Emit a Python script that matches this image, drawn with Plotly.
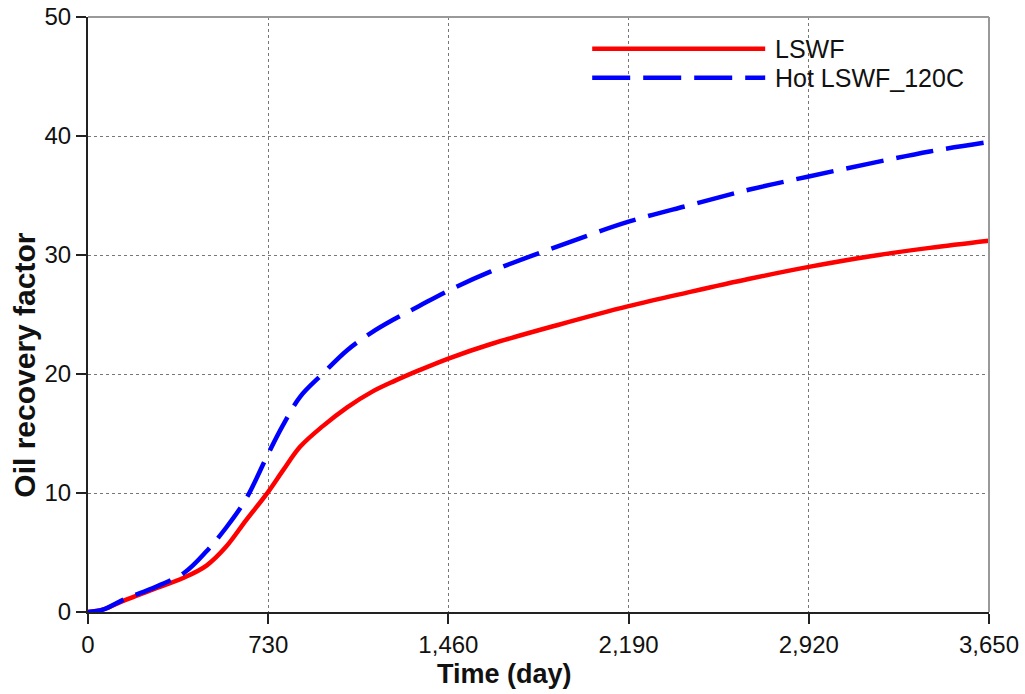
import plotly.graph_objects as go

# Time (day)
time_days = [0, 60, 150, 250, 390, 480, 560, 640, 730, 790, 860, 950, 1050, 1150,
             1240, 1340, 1460, 1630, 1900, 2190, 2440, 2680, 2920, 3170, 3410, 3650]
# Oil recovery factor
lswf = [0, 0.2, 1.0, 1.8, 2.9, 3.9, 5.5, 7.7, 10.1, 11.9, 13.9, 15.6, 17.2, 18.5,
        19.4, 20.3, 21.3, 22.5, 24.1, 25.7, 26.9, 28.0, 29.0, 29.9, 30.6, 31.2]
hot_lswf_120c = [0, 0.2, 1.1, 1.9, 3.3, 5.1, 7.1, 9.5, 13.3, 15.7, 18.1, 20.0, 22.0, 23.5,
                 24.6, 25.7, 27.0, 28.6, 30.7, 32.8, 34.2, 35.5, 36.6, 37.7, 38.7, 39.5]

x_ticks = [0, 730, 1460, 2190, 2920, 3650]
y_ticks = [0, 10, 20, 30, 40, 50]
series_names = ["LSWF", "Hot LSWF_120C"]

RED = "#ff0000"
BLUE = "#0000ff"
BLUE_DASH = "38px,13px"
FONT = "Liberation Sans, Arial, sans-serif"

fig = go.Figure()
fig.add_trace(go.Scatter(x=time_days, y=lswf, mode="lines", name=series_names[0],
                         line=dict(color=RED, width=4.5, shape="spline", smoothing=1.0),
                         showlegend=False))
fig.add_trace(go.Scatter(x=time_days, y=hot_lswf_120c, mode="lines", name=series_names[1],
                         line=dict(color=BLUE, width=4.5, dash=BLUE_DASH, shape="spline", smoothing=1.0),
                         showlegend=False))

axis_common = dict(
    showline=True, linecolor="#222", linewidth=2,
    ticks="outside", ticklen=10, tickwidth=2, tickcolor="#222",
    showgrid=True, gridcolor="#777", gridwidth=1, griddash="dot",
    zeroline=False, automargin=False,
    tickfont=dict(family=FONT, size=24, color="#111"),
)

fig.update_xaxes(range=[0, 3650], tickvals=x_ticks, tickformat=",d", **axis_common)
fig.update_yaxes(range=[0, 50], tickvals=y_ticks, **axis_common)

# gray frame on top and right
fig.add_shape(type="line", xref="paper", yref="paper", x0=0, x1=1, y0=1, y1=1,
              line=dict(color="#999", width=2))
fig.add_shape(type="line", xref="paper", yref="paper", x0=1, x1=1, y0=0, y1=1,
              line=dict(color="#999", width=2))

# axis titles
fig.add_annotation(text="<b>Time (day)</b>", xref="paper", yref="paper", x=0.462, y=-0.105,
                   showarrow=False, font=dict(family=FONT, size=27, color="#111"),
                   xanchor="center", yanchor="middle")
fig.add_annotation(text="<b>Oil recovery factor</b>", xref="paper", yref="paper", x=-0.0715, y=0.415,
                   showarrow=False, textangle=-90, font=dict(family=FONT, size=30, color="#111"),
                   xanchor="center", yanchor="middle")

# legend (drawn manually to match long line samples)
leg_rows = [(0.9467, RED, "solid", series_names[0]), (0.898, BLUE, BLUE_DASH, series_names[1])]
for y, col, dash, name in leg_rows:
    fig.add_shape(type="line", xref="paper", yref="paper", x0=0.5596, x1=0.7516, y0=y, y1=y,
                  line=dict(color=col, width=4.5, dash=dash))
    fig.add_annotation(text=name, xref="paper", yref="paper", x=0.7604, y=y, showarrow=False,
                       xanchor="left", yanchor="middle",
                       font=dict(family=FONT, size=25, color="#111"))

fig.update_layout(
    width=1025, height=694,
    margin=dict(l=88, r=36, t=17, b=82),
    paper_bgcolor="white", plot_bgcolor="white",
    showlegend=False,
)

fig.write_html("out.html")
